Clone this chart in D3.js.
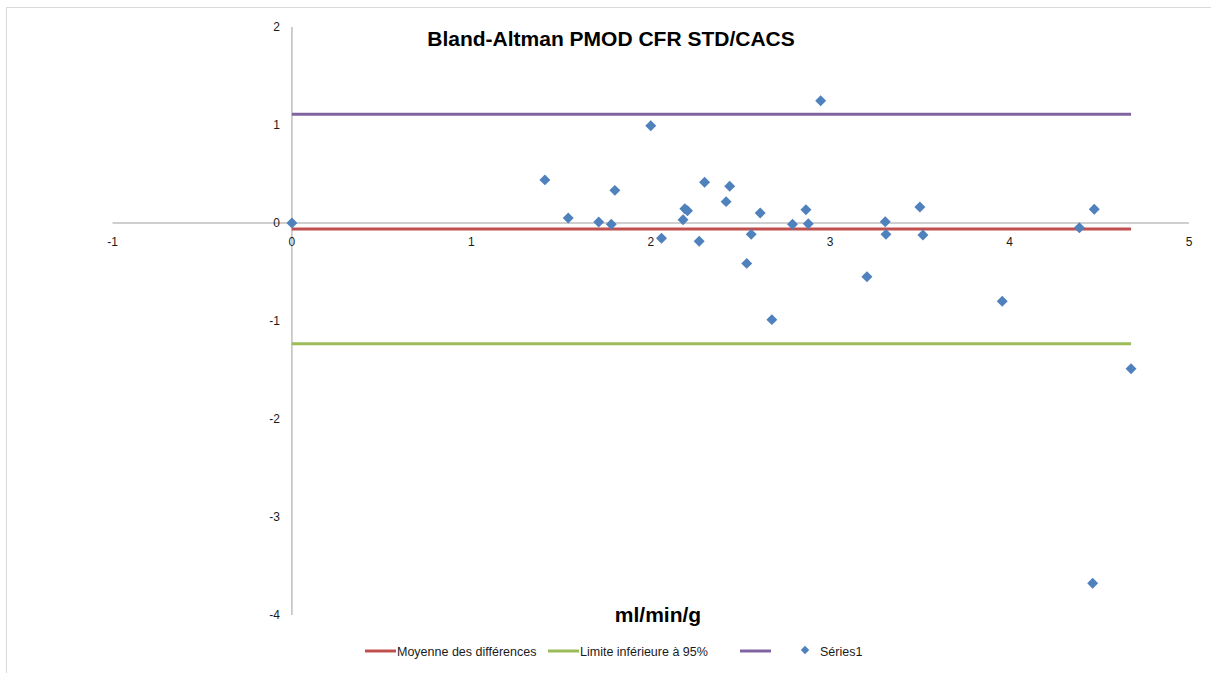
<!DOCTYPE html>
<html><head><meta charset="utf-8">
<script src="https://cdn.jsdelivr.net/npm/d3@7"></script>
<style>body{margin:0;background:#fff}svg{display:block}text{font-family:"Liberation Sans",Arial,sans-serif}</style>
</head><body>
<svg id="c" width="1211" height="673"></svg>
<script>
const title = "Bland-Altman PMOD CFR STD/CACS";
const xTitle = "ml/min/g";
const xTicks = [-1, 0, 1, 2, 3, 4, 5];
const yTicks = [2, 1, 0, -1, -2, -3, -4];
const ptX = [0, 1.41, 1.54, 1.71, 1.78, 1.80, 2.00, 2.06, 2.18, 2.19, 2.205, 2.27, 2.30, 2.42, 2.44, 2.535, 2.56, 2.61, 2.675, 2.79, 2.865, 2.878, 2.947, 3.205, 3.307, 3.311, 3.50, 3.517, 3.959, 4.389, 4.472, 4.463, 4.677];
const ptY = [0, 0.44, 0.05, 0.01, -0.013, 0.333, 0.993, -0.156, 0.034, 0.145, 0.125, -0.187, 0.415, 0.218, 0.374, -0.412, -0.116, 0.102, -0.986, -0.013, 0.136, -0.007, 1.248, -0.548, 0.013, -0.116, 0.163, -0.122, -0.799, -0.048, 0.140, -3.677, -1.487];
const lineNames = ["Moyenne des différences", "Limite inférieure à 95%", ""];
const lineValues = [-0.061, -1.232, 1.109];
const lineX = [0, 4.677];
const lineColors = ["#C0504D", "#9BBB59", "#8064A2"];
const seriesName = "Séries1";
const markerColor = "#4F81BD";

const svg = d3.select("#c");
svg.append("rect").attr("x", 6.5).attr("y", 7.5).attr("width", 1220).attr("height", 700)
  .attr("fill", "#fff").attr("stroke", "#D9D9D9").attr("stroke-width", 1);

const x = d3.scaleLinear().domain([-1, 5]).range([112.5, 1189]);
const y = d3.scaleLinear().domain([-4, 2]).range([615, 27]);

// axes lines
svg.append("line").attr("x1", x(-1)).attr("x2", x(5)).attr("y1", y(0)).attr("y2", y(0))
  .attr("stroke", "#BFBFBF").attr("stroke-width", 1.5);
svg.append("line").attr("x1", x(0)).attr("x2", x(0)).attr("y1", y(2)).attr("y2", y(-4))
  .attr("stroke", "#BFBFBF").attr("stroke-width", 1.5);

// x tick labels
svg.selectAll(".xt").data(xTicks).join("text").attr("class", "xt")
  .attr("x", d => x(d)).attr("y", y(0) + 23).attr("text-anchor", "middle")
  .attr("font-size", 12).attr("fill", "#1a1a1a").text(d => d);
// y tick labels
svg.selectAll(".yt").data(yTicks).join("text").attr("class", "yt")
  .attr("x", x(0) - 12).attr("y", d => y(d) + 4).attr("text-anchor", "end")
  .attr("font-size", 12).attr("fill", "#1a1a1a").text(d => d);

// horizontal lines
lineValues.forEach((v, i) => {
  svg.append("path").datum(lineX.map(xx => [xx, v]))
    .attr("d", d3.line().x(d => x(d[0])).y(d => y(d[1])))
    .attr("stroke", lineColors[i]).attr("stroke-width", 3).attr("fill", "none");
});

// points
const sym = d3.symbol(d3.symbolSquare, 60);
svg.selectAll(".pt").data(ptX.map((v, i) => [v, ptY[i]])).join("path").attr("class", "pt")
  .attr("d", sym).attr("transform", d => `translate(${x(d[0])},${y(d[1])}) rotate(45)`)
  .attr("fill", markerColor);

// title
svg.append("text").attr("x", 611).attr("y", 46).attr("text-anchor", "middle")
  .attr("font-size", 21).attr("font-weight", "bold").attr("fill", "#000").text(title);
svg.append("text").attr("x", 658).attr("y", 622).attr("text-anchor", "middle")
  .attr("font-size", 21).attr("font-weight", "bold").attr("fill", "#000").text(xTitle);

// legend
const lg = svg.append("g").attr("font-size", 12.5).attr("fill", "#1a1a1a");
const legX = [365, 548, 740];
lineNames.forEach((n, i) => {
  lg.append("line").attr("x1", legX[i]).attr("x2", legX[i] + 31).attr("y1", 651).attr("y2", 651)
    .attr("stroke", lineColors[i]).attr("stroke-width", 3);
  lg.append("text").attr("x", legX[i] + 32).attr("y", 655.5).text(n);
});
lg.append("path").attr("d", d3.symbol(d3.symbolSquare, 36))
  .attr("transform", "translate(805,650) rotate(45)").attr("fill", markerColor);
lg.append("text").attr("x", 820).attr("y", 655.5).text(seriesName);
</script>
</body></html>
